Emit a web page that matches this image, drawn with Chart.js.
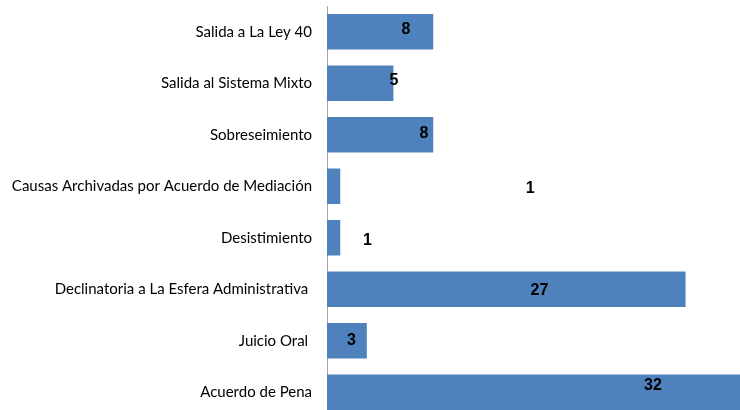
<!DOCTYPE html>
<html>
<head>
<meta charset="utf-8">
<script src="https://cdn.jsdelivr.net/npm/chart.js@4.4.1/dist/chart.umd.min.js"></script>
<style>
html,body{margin:0;padding:0;background:#fff;overflow:hidden;width:740px;height:410px;}
#wrap{position:absolute;left:0;top:0;width:740px;height:418px;}
</style>
</head>
<body>
<div id="wrap"><canvas id="c" width="740" height="418"></canvas></div>
<script>
// Data
const categories = [
  "Salida a La Ley 40",
  "Salida al Sistema Mixto",
  "Sobreseimiento",
  "Causas Archivadas por Acuerdo de Mediación",
  "Desistimiento",
  "Declinatoria a La Esfera Administrativa ",
  "Juicio Oral ",
  "Acuerdo de Pena"
];
const values = [8, 5, 8, 1, 1, 27, 3, 32];
// Where each value label sits, in value units along the bar axis
const labelAnchor = [5.95, 5.05, 7.3, 15.3, 3.05, 16.0, 1.85, 24.55];
// Vertical nudge for each label, in category units
const labelNudge = [-0.04, -0.06, -0.02, 0.04, 0.05, 0.03, 0, -0.13];

const valueLabels = {
  id: 'valueLabels',
  afterDatasetsDraw(chart) {
    const ctx = chart.ctx;
    const xs = chart.scales.x, ys = chart.scales.y;
    ctx.save();
    ctx.font = 'bold 16px "Liberation Sans", Arial, sans-serif';
    ctx.fillStyle = '#000';
    ctx.textAlign = 'center';
    ctx.textBaseline = 'middle';
    values.forEach((v, i) => {
      const x = xs.getPixelForValue(labelAnchor[i]);
      const y = ys.getPixelForValue(i + labelNudge[i]);
      ctx.fillText(String(v), x, y);
    });
    ctx.restore();
  }
};

new Chart(document.getElementById('c'), {
  type: 'bar',
  data: {
    labels: categories,
    datasets: [{
      data: values,
      backgroundColor: '#4F81BD',
      borderWidth: 0,
      barPercentage: 1,
      categoryPercentage: 0.69
    }]
  },
  options: {
    indexAxis: 'y',
    responsive: false,
    animation: false,
    events: [],
    layout: { padding: { left: 0, right: 0, top: 6, bottom: 0 } },
    plugins: { legend: { display: false }, tooltip: { enabled: false } },
    scales: {
      x: {
        display: false,
        min: 0,
        max: 31.1
      },
      y: {
        grid: { display: false, drawTicks: false },
        border: { display: true, color: '#a6a6a6', width: 1 },
        ticks: {
          color: '#000',
          padding: 15,
          font: { family: 'Lato, "Open Sans", sans-serif', size: 15 }
        },
        afterFit(scale) {
          scale.width = 327;
          scale.paddingTop = 0;
          scale.paddingBottom = 0;
        }
      }
    }
  },
  plugins: [valueLabels]
});
</script>
</body>
</html>
